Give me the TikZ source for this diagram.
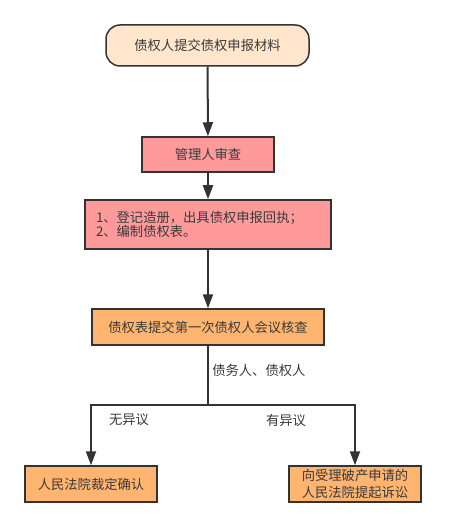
\documentclass[tikz,border=0pt]{standalone}
\usepackage{fontspec}
\setmainfont{Noto Sans CJK SC}
\usepackage{tikz}
\usetikzlibrary{positioning, arrows.meta, shapes}

\definecolor{peach}{HTML}{FFE6CC}
\definecolor{salmon}{HTML}{FF9A9A}
\definecolor{amber}{HTML}{FFB570}
\definecolor{ink}{HTML}{3A3A3A}
\definecolor{edgeline}{HTML}{333333}

\begin{document}
\begin{tikzpicture}
            [x=1pt, y=-1pt,
             box/.style={draw=edgeline, line width=1.5pt, text=ink, font=\fontsize{13.3}{15}\selectfont, inner sep=0pt, align=center},
             startbox/.style={box, fill=peach, rounded corners=14pt, minimum width=203pt, minimum height=41pt},
             redbox/.style={box, fill=salmon},
             orangebox/.style={box, fill=amber, minimum width=132pt, minimum height=36pt},
             lbl/.style={text=ink, font=\fontsize{13.3}{15}\selectfont},
             flow/.style={draw=edgeline, line width=2pt, -{Triangle[width=10pt, length=14pt]}}]
            \useasboundingbox[fill=white] (0,0) rectangle (448,529);

            \node[startbox] (submit) at (207.5,45.5) {债权人提交债权申报材料};
            \node[redbox, minimum width=132pt, minimum height=35pt] (review) at (208,154.5) {管理人审查};
            \node[redbox, text width=224pt, inner xsep=11pt, minimum height=49pt, align=left,
                  font=\fontsize{13.3}{14}\selectfont] (register) at (208,224.5) {1、登记造册，出具债权申报回执；\\2、编制债权表。};
            \node[orangebox, minimum width=232pt] (meeting) at (208,327) {债权表提交第一次债权人会议核查};
            \node[orangebox] (court) at (91,484) {人民法院裁定确认};
            \node[orangebox, font=\fontsize{13.3}{16.5}\selectfont] (suit) at (355,484) {向受理破产申请的\\人民法院提起诉讼};
            \coordinate (split) at (208,405);

            \path[flow] (submit) -- (review);
            \path[flow] (review) -- (register);
            \path[flow] (register) -- (meeting);
            \draw[edgeline, line width=2pt] (meeting) -- node[lbl, right, pos=0.42] (parties) {债务人、债权人} (split);
            \path[flow] (split) -| (court);
            \path[flow] (split) -| (suit);

            \node[lbl] (agree) at (129,420) {无异议};
            \node[lbl] (object) at (286,420) {有异议};
        \end{tikzpicture}
\end{document}
